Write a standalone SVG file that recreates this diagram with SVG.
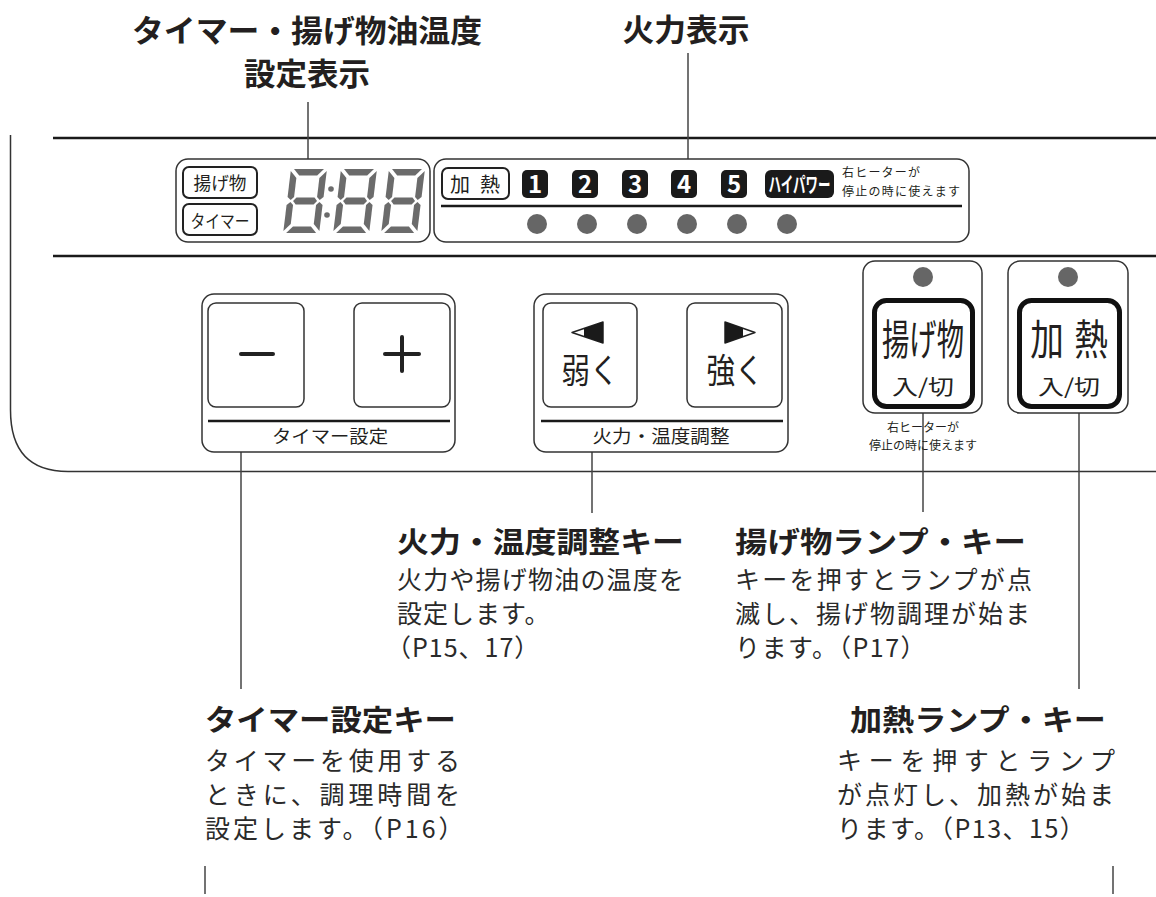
<svg xmlns="http://www.w3.org/2000/svg" width="1156" height="897" viewBox="0 0 1156 897">
<style>
text{font-family:'Noto Sans CJK JP','Noto Sans CJK SC',sans-serif;fill:#231f20}
.title{font-size:31px;font-weight:700;text-anchor:middle}
.head{font-size:29px;font-weight:700}
.body{font-size:25px;fill:#2a2a2a}
.lbl{font-size:18px;text-anchor:middle}
.sm{font-size:12px}
.frame{fill:none;stroke:#333;stroke-width:1.5}
.rule{stroke:#1a1a1a;stroke-width:2.5}
.box{fill:#fff;stroke:#333;stroke-width:1.5}
.ibox{fill:#fff;stroke:#222;stroke-width:2}
.key{fill:#fff;stroke:#333;stroke-width:1.5}
.thick{fill:#fff;stroke:#111;stroke-width:5}
.blk{fill:#1a1a1a}
.num{font-size:24px;font-weight:700;fill:#fff;text-anchor:middle}
.lamp{fill:#666}
.seg{fill:#6b6b6b}
.conn{stroke:#444;stroke-width:1.5;fill:none}
</style>
<defs>
<g id="digit" class="seg">
<polygon points="3,0 33,0 27,6.5 9,6.5"/>
<polygon points="29.5,9 36,2 36,28 32.5,31 29.5,28"/>
<polygon points="29.5,36 32.5,33 36,36 36,62 29.5,55"/>
<polygon points="9,57.5 27,57.5 33,64 3,64"/>
<polygon points="0,36 3.5,33 6.5,36 6.5,55 0,62"/>
<polygon points="0,2 6.5,9 6.5,28 3.5,31 0,28"/>
<polygon points="6,32 9,28.5 27,28.5 30,32 27,35.5 9,35.5"/>
</g>
</defs>
<rect width="1156" height="897" fill="#fff"/>

<!-- panel frame -->
<g id="panel">
<path class="frame" d="M10.5,135 V410 Q10.5,471.5 68,471.5 H1156"/>
<line class="rule" x1="53" y1="138" x2="1156" y2="138"/>
<line class="rule" x1="53" y1="256" x2="1156" y2="256"/>
</g>

<!-- connectors -->
<g id="connectors">
<line class="conn" x1="308" y1="102" x2="308" y2="159"/>
<line class="conn" x1="688" y1="53" x2="688" y2="159"/>
<line class="conn" x1="241" y1="452" x2="241" y2="689"/>
<line class="conn" x1="592" y1="452" x2="592" y2="513"/>
<line class="conn" x1="923" y1="408" x2="923" y2="512"/>
<line class="conn" x1="1079" y1="411" x2="1079" y2="689"/>
<line class="conn" x1="205" y1="866" x2="205" y2="894"/>
<line class="conn" x1="1113" y1="866" x2="1113" y2="894"/>
</g>

<!-- titles -->
<g id="title-timer-display">
<text class="title" x="307" y="42" textLength="350" lengthAdjust="spacingAndGlyphs">タイマー・揚げ物油温度</text>
<text class="title" x="307" y="85" textLength="126" lengthAdjust="spacingAndGlyphs">設定表示</text>
</g>
<g id="title-heat-display">
<text class="title" x="686" y="41" textLength="127" lengthAdjust="spacingAndGlyphs">火力表示</text>
</g>

<!-- timer / oil temp display -->
<g id="timer-display">
<rect class="box" x="176" y="159" width="254" height="83" rx="12"/>
<rect class="ibox" x="183" y="167" width="74" height="31" rx="6"/>
<text x="220" y="190" font-size="18" text-anchor="middle" textLength="53" lengthAdjust="spacingAndGlyphs">揚げ物</text>
<rect class="ibox" x="183" y="204" width="74" height="31" rx="6"/>
<text x="220" y="228" font-size="18" text-anchor="middle" textLength="59" lengthAdjust="spacingAndGlyphs">タイマー</text>
<use href="#digit" transform="translate(291,169) skewX(-7)"/>
<use href="#digit" transform="translate(341,169) skewX(-7)"/>
<use href="#digit" transform="translate(389,169) skewX(-7)"/>
<circle class="seg" cx="331" cy="189" r="2.8"/>
<circle class="seg" cx="327" cy="215" r="2.8"/>
</g>

<!-- heat display -->
<g id="heat-display">
<rect class="box" x="434" y="159" width="535" height="83" rx="12"/>
<rect class="ibox" x="442" y="168" width="67" height="31" rx="6"/>
<text x="475" y="192" font-size="20" text-anchor="middle" textLength="50" lengthAdjust="spacing">加熱</text>
<rect class="blk" x="522" y="170" width="26" height="28" rx="5"/>
<text class="num" x="535" y="193">1</text>
<rect class="blk" x="572" y="170" width="26" height="28" rx="5"/>
<text class="num" x="585" y="193">2</text>
<rect class="blk" x="622" y="170" width="26" height="28" rx="5"/>
<text class="num" x="635" y="193">3</text>
<rect class="blk" x="671" y="170" width="26" height="28" rx="5"/>
<text class="num" x="684" y="193">4</text>
<rect class="blk" x="721" y="170" width="26" height="28" rx="5"/>
<text class="num" x="734" y="193">5</text>
<rect class="blk" x="765" y="170" width="69" height="28" rx="6"/>
<text x="799.5" y="192" font-size="21" font-weight="700" style="fill:#fff" text-anchor="middle" textLength="62" lengthAdjust="spacingAndGlyphs">ハイパワー</text>
<text class="sm" x="842" y="177" textLength="78" lengthAdjust="spacing">右ヒーターが</text>
<text class="sm" x="842" y="196" textLength="118" lengthAdjust="spacing">停止の時に使えます</text>
<line class="rule" x1="441" y1="206" x2="962" y2="206"/>
<circle class="lamp" cx="537" cy="224" r="10"/>
<circle class="lamp" cx="587" cy="224" r="10"/>
<circle class="lamp" cx="637" cy="224" r="10"/>
<circle class="lamp" cx="687" cy="224" r="10"/>
<circle class="lamp" cx="737" cy="224" r="10"/>
<circle class="lamp" cx="787" cy="224" r="10"/>
</g>

<!-- timer setting keys -->
<g id="timer-keys">
<rect class="box" x="202" y="294" width="253" height="158" rx="12"/>
<rect class="key" x="208" y="303" width="96" height="104" rx="8"/>
<rect class="key" x="354" y="303" width="96" height="104" rx="8"/>
<line x1="241" y1="354" x2="273" y2="354" stroke="#222" stroke-width="4" stroke-linecap="round"/>
<line x1="385" y1="354" x2="419" y2="354" stroke="#222" stroke-width="4" stroke-linecap="round"/>
<line x1="402" y1="337" x2="402" y2="371" stroke="#222" stroke-width="4" stroke-linecap="round"/>
<line class="rule" x1="208" y1="421" x2="450" y2="421"/>
<text class="lbl" x="330" y="443" textLength="116" lengthAdjust="spacingAndGlyphs">タイマー設定</text>
</g>

<!-- heat / temp adjust keys -->
<g id="adjust-keys">
<rect class="box" x="534" y="294" width="254" height="158" rx="12"/>
<rect class="key" x="543" y="303" width="94" height="104" rx="8"/>
<rect class="key" x="687" y="303" width="95" height="104" rx="8"/>
<polygon points="572,332.5 603,322 603,343" fill="#fff" stroke="#222" stroke-width="1.5" stroke-linejoin="round"/>
<polygon points="584,328.5 603,322 603,343 584,336.5" fill="#1a1a1a"/>
<polygon points="725,322 725,343 755,332.5" fill="#fff" stroke="#222" stroke-width="1.5" stroke-linejoin="round"/>
<polygon points="725,322 725,343 743,336.7 743,328.3" fill="#1a1a1a"/>
<text x="590" y="383" font-size="34" text-anchor="middle" textLength="57" lengthAdjust="spacingAndGlyphs">弱く</text>
<text x="735" y="383" font-size="34" text-anchor="middle" textLength="57" lengthAdjust="spacingAndGlyphs">強く</text>
<line class="rule" x1="541" y1="421" x2="783" y2="421"/>
<text class="lbl" x="661" y="443" textLength="137" lengthAdjust="spacingAndGlyphs">火力・温度調整</text>
</g>

<!-- fry key -->
<g id="fry-key">
<rect class="key" x="863" y="261" width="119" height="152" rx="12"/>
<circle class="lamp" cx="923" cy="277" r="10"/>
<rect class="thick" x="874.5" y="300.5" width="98" height="106" rx="12"/>
<text x="923" y="355" font-size="42" text-anchor="middle" textLength="82" lengthAdjust="spacingAndGlyphs">揚げ物</text>
<text x="923" y="394" font-size="21" text-anchor="middle" textLength="62" lengthAdjust="spacingAndGlyphs">入/切</text>
<text x="923" y="432" font-size="12" text-anchor="middle">右ヒーターが</text>
<text x="923" y="450" font-size="12" text-anchor="middle" textLength="108" lengthAdjust="spacingAndGlyphs">停止の時に使えます</text>
</g>

<!-- heat key -->
<g id="heat-key">
<rect class="key" x="1008" y="261" width="120" height="152" rx="12"/>
<circle class="lamp" cx="1068" cy="277" r="10"/>
<rect class="thick" x="1019.5" y="300.5" width="100" height="106" rx="12"/>
<text transform="translate(1069,355) scale(0.8,1)" font-size="42" text-anchor="middle">加<tspan dx="13">熱</tspan></text>
<text x="1069" y="394" font-size="21" text-anchor="middle" textLength="62" lengthAdjust="spacingAndGlyphs">入/切</text>
</g>

<!-- callout texts -->
<g id="label-adjust">
<text class="head" x="397" y="553" textLength="287" lengthAdjust="spacingAndGlyphs">火力・温度調整キー</text>
<text class="body" x="397" y="589" textLength="287" lengthAdjust="spacing">火力や揚げ物油の温度を</text>
<text class="body" x="397" y="623" letter-spacing="1">設定します。</text>
<text class="body" x="386" y="657" letter-spacing="1">（P15、17）</text>
</g>
<g id="label-fry">
<text class="head" x="735" y="553" textLength="291" lengthAdjust="spacingAndGlyphs">揚げ物ランプ・キー</text>
<text class="body" x="735" y="589" textLength="297" lengthAdjust="spacing">キーを押すとランプが点</text>
<text class="body" x="735" y="623" textLength="295" lengthAdjust="spacing">滅し、揚げ物調理が始ま</text>
<text class="body" x="735" y="657" letter-spacing="1.5">ります。（P17）</text>
</g>
<g id="label-timer">
<text class="head" x="205" y="731" textLength="251" lengthAdjust="spacingAndGlyphs">タイマー設定キー</text>
<text class="body" x="205" y="770" textLength="255" lengthAdjust="spacing">タイマーを使用する</text>
<text class="body" x="205" y="804" textLength="255" lengthAdjust="spacing">ときに、調理時間を</text>
<text class="body" x="205" y="838" letter-spacing="3">設定します。（P16）</text>
</g>
<g id="label-heat">
<text class="head" x="850" y="731" textLength="256" lengthAdjust="spacingAndGlyphs">加熱ランプ・キー</text>
<text class="body" x="837" y="770" textLength="278" lengthAdjust="spacing">キーを押すとランプ</text>
<text class="body" x="837" y="804" textLength="277" lengthAdjust="spacing">が点灯し、加熱が始ま</text>
<text class="body" x="837" y="838" letter-spacing="1.5">ります。（P13、15）</text>
</g>
</svg>
